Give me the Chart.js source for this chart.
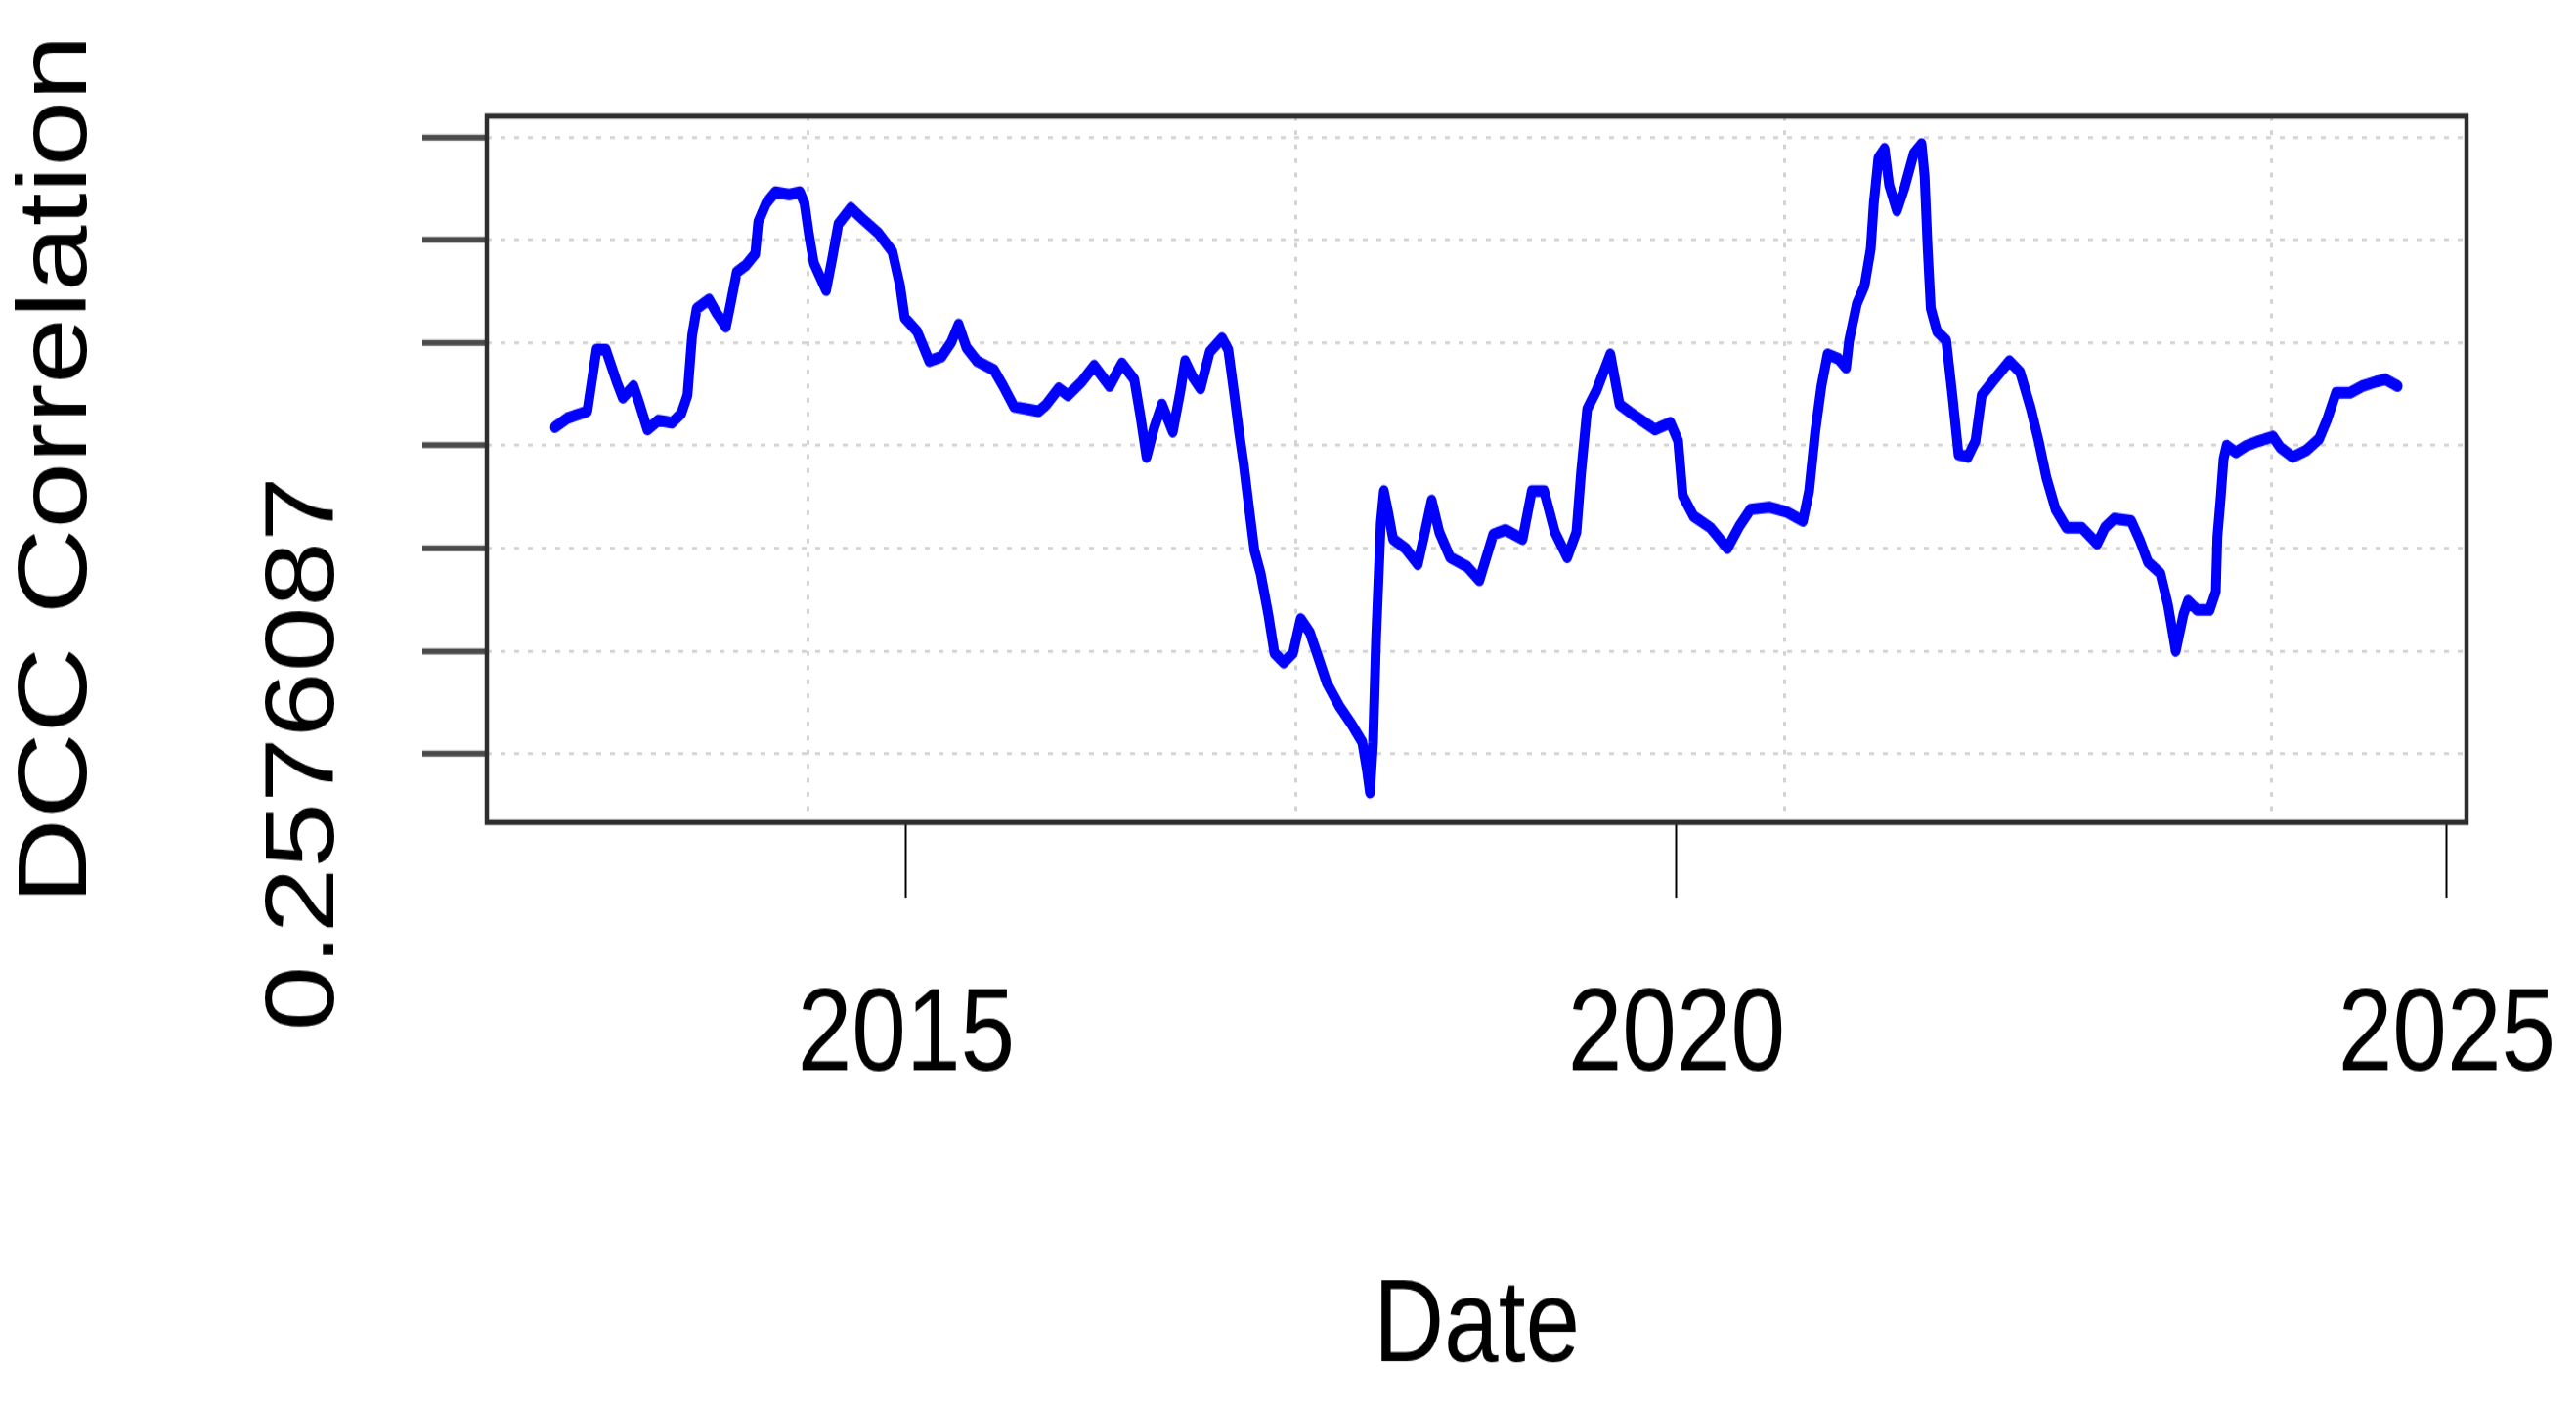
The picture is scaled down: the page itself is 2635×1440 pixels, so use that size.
<!DOCTYPE html>
<html>
<head>
<meta charset="utf-8">
<title>DCC Correlation</title>
<script src="https://cdn.jsdelivr.net/npm/chart.js@4.4.1/dist/chart.umd.min.js"></script>
<style>
  html, body { margin: 0; padding: 0; background: #fff; }
  /* the original picture is stretched vertically by about 1.2 */
  #chart { display: block; width: 2635px; height: 1440px; }
</style>
</head>
<body>
<canvas id="chart" width="2635" height="1200" style="width:2635px;height:1440px"></canvas>
<script>
// Dates as decimal years
const dates = [
  2012.72, 2012.80, 2012.93, 2012.99, 2013.05, 2013.12, 2013.16, 2013.23, 2013.27, 2013.32,
  2013.39, 2013.48, 2013.54, 2013.58, 2013.61, 2013.64, 2013.72, 2013.77, 2013.83, 2013.86,
  2013.90, 2013.96, 2014.02, 2014.04, 2014.09, 2014.15, 2014.24, 2014.31, 2014.34, 2014.37,
  2014.40, 2014.48, 2014.52, 2014.56, 2014.64, 2014.72, 2014.82, 2014.91, 2014.96, 2014.99,
  2015.07, 2015.15, 2015.23, 2015.29, 2015.34, 2015.39, 2015.46, 2015.57, 2015.63, 2015.70,
  2015.86, 2015.91, 2015.99, 2016.05, 2016.14, 2016.22, 2016.32, 2016.40, 2016.48, 2016.52,
  2016.56, 2016.61, 2016.66, 2016.73, 2016.78, 2016.81, 2016.86, 2016.91, 2016.97, 2017.05,
  2017.09, 2017.13, 2017.16, 2017.19, 2017.23, 2017.26, 2017.30, 2017.35, 2017.39, 2017.45,
  2017.51, 2017.56, 2017.62, 2017.68, 2017.73, 2017.81, 2017.89, 2017.96, 2017.99, 2018.01,
  2018.03, 2018.05, 2018.08, 2018.10, 2018.13, 2018.16, 2018.24, 2018.32, 2018.36, 2018.41,
  2018.46, 2018.53, 2018.64, 2018.72, 2018.81, 2018.89, 2019.00, 2019.06, 2019.14, 2019.21,
  2019.29, 2019.35, 2019.38, 2019.42, 2019.48, 2019.57, 2019.63, 2019.73, 2019.86, 2019.96,
  2020.01, 2020.04, 2020.11, 2020.22, 2020.33, 2020.41, 2020.48, 2020.60, 2020.71, 2020.82,
  2020.86, 2020.90, 2020.94, 2020.98, 2021.05, 2021.10, 2021.12, 2021.17, 2021.22, 2021.26,
  2021.28, 2021.31, 2021.35, 2021.38, 2021.43, 2021.48, 2021.54, 2021.59, 2021.61, 2021.63,
  2021.65, 2021.69, 2021.75, 2021.79, 2021.83, 2021.89, 2021.94, 2021.98, 2022.05, 2022.16,
  2022.23, 2022.30, 2022.35, 2022.40, 2022.46, 2022.53, 2022.63, 2022.73, 2022.78, 2022.84,
  2022.95, 2023.01, 2023.06, 2023.14, 2023.19, 2023.24, 2023.29, 2023.32, 2023.38, 2023.46,
  2023.50, 2023.51, 2023.53, 2023.55, 2023.57, 2023.63, 2023.70, 2023.78, 2023.87, 2023.92,
  2024.00, 2024.09, 2024.17, 2024.22, 2024.28, 2024.37, 2024.45, 2024.54, 2024.60, 2024.68
];

// DCC correlation values
const dcc = [
  0.4165, 0.4209, 0.4243, 0.4543, 0.4543, 0.4387, 0.4309, 0.4365, 0.4276, 0.4154,
  0.4198, 0.4187, 0.4232, 0.4320, 0.4609, 0.4743, 0.4787, 0.4720, 0.4654, 0.4765,
  0.4920, 0.4954, 0.5009, 0.5165, 0.5254, 0.5309, 0.5298, 0.5309, 0.5254, 0.5098,
  0.4965, 0.4832, 0.4987, 0.5154, 0.5232, 0.5176, 0.5109, 0.5020, 0.4854, 0.4698,
  0.4632, 0.4487, 0.4509, 0.4576, 0.4665, 0.4554, 0.4487, 0.4443, 0.4365, 0.4265,
  0.4243, 0.4276, 0.4354, 0.4320, 0.4387, 0.4465, 0.4365, 0.4476, 0.4398, 0.4220,
  0.4020, 0.4165, 0.4276, 0.4143, 0.4343, 0.4487, 0.4409, 0.4354, 0.4532, 0.4598,
  0.4543, 0.4320, 0.4143, 0.3987, 0.3743, 0.3565, 0.3454, 0.3254, 0.3065, 0.3020,
  0.3065, 0.3232, 0.3165, 0.3032, 0.2920, 0.2809, 0.2720, 0.2632, 0.2498, 0.2387,
  0.2632, 0.3143, 0.3698, 0.3854, 0.3743, 0.3620, 0.3576, 0.3498, 0.3632, 0.3809,
  0.3654, 0.3532, 0.3487, 0.3420, 0.3643, 0.3665, 0.3620, 0.3854, 0.3854, 0.3654,
  0.3532, 0.3654, 0.3943, 0.4254, 0.4343, 0.4520, 0.4276, 0.4220, 0.4154, 0.4187,
  0.4098, 0.3832, 0.3732, 0.3676, 0.3576, 0.3687, 0.3765, 0.3776, 0.3754, 0.3709,
  0.3854, 0.4143, 0.4365, 0.4520, 0.4498, 0.4454, 0.4587, 0.4765, 0.4854, 0.5032,
  0.5254, 0.5476, 0.5520, 0.5343, 0.5220, 0.5332, 0.5498, 0.5543, 0.5387, 0.5032,
  0.4743, 0.4632, 0.4587, 0.4320, 0.4032, 0.4020, 0.4098, 0.4320, 0.4387, 0.4487,
  0.4432, 0.4254, 0.4098, 0.3920, 0.3765, 0.3676, 0.3676, 0.3598, 0.3676, 0.3720,
  0.3709, 0.3609, 0.3509, 0.3454, 0.3298, 0.3076, 0.3254, 0.3320, 0.3276, 0.3276,
  0.3365, 0.3632, 0.3809, 0.4009, 0.4076, 0.4043, 0.4076, 0.4098, 0.4120, 0.4065,
  0.4020, 0.4054, 0.4109, 0.4198, 0.4332, 0.4332, 0.4365, 0.4387, 0.4398, 0.4365
];

// Axis ticks and grid positions
const xTicks = [2015, 2020, 2025];
const xGrid = [2014.365, 2017.53, 2020.70, 2023.86];
const xRange = [2012.278, 2025.127];
const yTicks = [0.2576087, 0.3076087, 0.3576087, 0.4076087, 0.4576087, 0.5076087, 0.5576087];
const yTickLabels = ['0.2576087', '', '', '', '', '', ''];
const yRange = [0.2241, 0.5679];

const FONT = '"Liberation Sans", Arial, Helvetica, sans-serif';

// R-style box round the plot region
const boxPlugin = {
    id: 'rbox',
    afterDatasetsDraw(chart) {
        const { ctx, chartArea: a } = chart;
        ctx.save();
        ctx.strokeStyle = '#2e2e2e';
        ctx.lineWidth = 4.5;
        ctx.strokeRect(a.left, a.top, a.right - a.left, a.bottom - a.top);
        ctx.restore();
    }
};

// Rotated y tick label (R draws it parallel to the axis)
const yLabelPlugin = {
    id: 'ylabel',
    afterDraw(chart) {
        const { ctx } = chart;
        const y = chart.scales.y;
        ctx.save();
        ctx.fillStyle = '#000';
        ctx.font = '100px ' + FONT;
        ctx.textAlign = 'center';
        ctx.textBaseline = 'middle';
        yTicks.forEach((v, i) => {
            if (!yTickLabels[i]) return;
            ctx.save();
            ctx.translate(y.right - 185, y.getPixelForValue(v));
            ctx.rotate(-Math.PI / 2);
            ctx.fillText(yTickLabels[i], 0, 0);
            ctx.restore();
        });
        ctx.restore();
    }
};

const ctx = document.getElementById('chart').getContext('2d');
new Chart(ctx, {
    type: 'line',
    data: {
        datasets: [{
            data: dates.map((d, i) => ({ x: d, y: dcc[i] })),
            borderColor: '#0000ff',
            borderWidth: 10,
            pointRadius: 0,
            tension: 0,
            fill: false,
            borderCapStyle: 'round',
            borderJoinStyle: 'round'
        }]
    },
    options: {
        responsive: false,
        animation: false,
        devicePixelRatio: 1,
        layout: { padding: { top: 99, right: 112, bottom: 0, left: 0 } },
        plugins: {
            legend: { display: false },
            tooltip: { enabled: false }
        },
        scales: {
            x: {
                type: 'linear',
                position: 'bottom',
                min: xRange[0],
                max: xRange[1],
                afterBuildTicks: (s) => { s.ticks = xTicks.map(v => ({ value: v })); },
                afterFit: (s) => {
                    s.height = 499;
                    s.paddingLeft = 0;
                    s.paddingRight = 0;
                },
                grid: { drawOnChartArea: false, drawTicks: true, tickLength: 64, tickColor: '#000', tickWidth: 2 },
                border: { display: false },
                ticks: {
                    color: '#000',
                    font: { family: FONT, size: 100, lineHeight: 1 },
                    padding: 69,
                    maxRotation: 0,
                    autoSkip: false,
                    callback: (v) => String(v)
                },
                title: {
                    display: true,
                    text: 'Date',
                    color: '#000',
                    font: { family: FONT, size: 100, lineHeight: 1 },
                    padding: { top: 0, bottom: 18 }
                }
            },
            xg: {
                type: 'linear',
                position: 'top',
                min: xRange[0],
                max: xRange[1],
                afterBuildTicks: (s) => { s.ticks = xGrid.map(v => ({ value: v })); },
                afterFit: (s) => { s.height = 0; },
                grid: { color: '#d3d3d3', lineWidth: 3, drawTicks: false },
                border: { display: false, dash: [4, 8] },
                ticks: { display: false }
            },
            y: {
                type: 'linear',
                min: yRange[0],
                max: yRange[1],
                afterBuildTicks: (s) => { s.ticks = yTicks.map(v => ({ value: v })); },
                afterFit: (s) => { s.width = 498; },
                grid: {
                    color: '#d3d3d3', lineWidth: 2.5,
                    drawTicks: true, tickLength: 66, tickColor: '#4a4a4a', tickWidth: 5, tickBorderDash: []
                },
                border: { display: false, dash: [5, 9] },
                ticks: { display: false },
                title: {
                    display: true,
                    text: 'DCC Correlation',
                    color: '#000',
                    font: { family: FONT, size: 101, lineHeight: 1 },
                    padding: { top: 10, bottom: 0 }
                }
            }
        }
    },
    plugins: [boxPlugin, yLabelPlugin]
});
</script>
</body>
</html>
